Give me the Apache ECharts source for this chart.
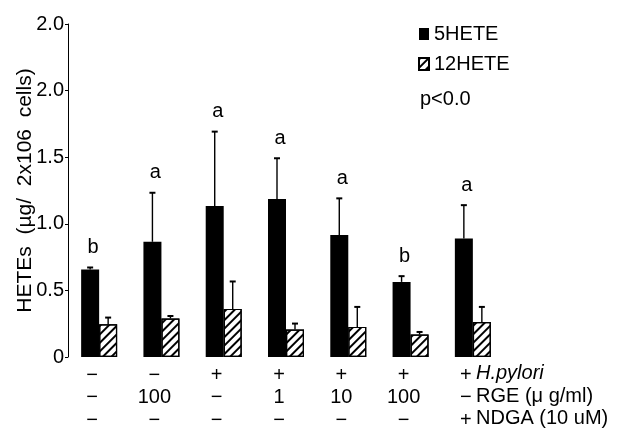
<!DOCTYPE html>
<html><head><meta charset="utf-8">
<script src="https://cdn.jsdelivr.net/npm/echarts@6/dist/echarts.min.js"></script>
<style>html,body{margin:0;padding:0;background:#fff}#c{width:622px;height:428px}</style>
</head><body><div id="c"></div>
<script>
const categories = ['G1','G2','G3','G4','G5','G6','G7'];
const hete5 = [0.657, 0.865, 1.133, 1.186, 0.915, 0.564, 0.89];
const hete5Err = [0.015, 0.368, 0.559, 0.306, 0.276, 0.043, 0.25];
const hete12 = [0.246, 0.289, 0.361, 0.206, 0.226, 0.168, 0.263];
const hete12Err = [0.05, 0.019, 0.206, 0.045, 0.15, 0.02, 0.113];
const sigLetters = ['b','a','a','a','a','b','a'];
const yTickLabels = ['0','0.5','1.0','1.5','2.0','2.0'];
const hpRow = ['−','−','+','+','+','+','+'];
const rgeRow = ['−','100','−','1','10','100','−'];
const ndgaRow = ['−','−','−','−','−','−','+'];
const rowTitles = ['H.pylori','RGE (μ g/ml)','NDGA (10 uM)'];
const yName = 'HETEs  (µg/  2x106  cells)';
const pText = 'p<0.0';

const FONT = '"Liberation Sans", Arial, sans-serif';
const BW = 18;
const chart = echarts.init(document.getElementById('c'));

function errSeries(name, vals, errs, off) {
  return {
    type: 'custom', name: name + ' err', z: 5,
    data: vals.map((v, i) => [i, v, errs[i]]),
    encode: {x: 0, y: 1},
    renderItem: function (params, api) {
      const i = api.value(0), v = api.value(1), e = api.value(2);
      const p0 = api.coord([i, v]);
      const p1 = api.coord([i, v + e]);
      const x = p0[0] + off;
      const st = {stroke: '#000', lineWidth: 1.4};
      return {type: 'group', children: [
        {type: 'line', shape: {x1: x, y1: p0[1], x2: x, y2: p1[1]}, style: st},
        {type: 'line', shape: {x1: x - 3, y1: p1[1], x2: x + 3, y2: p1[1]}, style: {stroke: '#000', lineWidth: 2}}
      ]};
    }
  };
}

const option = {
  backgroundColor: '#fff',
  animation: false,
  textStyle: {fontFamily: FONT},
  grid: {left: 68, right: 118, top: 24, bottom: 71, outerBoundsMode: 'none', containLabel: false},
  legend: {
    data: ['5HETE', '12HETE'], orient: 'vertical', left: 418, top: 24, padding: 0,
    itemWidth: 10, itemHeight: 12, itemGap: 10, icon: 'rect',
    textStyle: {fontSize: 20, color: '#000', fontFamily: FONT}
  },
  xAxis: {
    type: 'category', data: categories,
    axisLine: {show: false}, axisTick: {show: false},
    axisLabel: {
      interval: 0, margin: 7, fontSize: 20, lineHeight: 22.5, color: '#000',
      padding: [0, 14, 0, 0],
      formatter: function (v, i) { return hpRow[i] + '\n' + rgeRow[i] + '\n' + ndgaRow[i]; }
    }
  },
  yAxis: {
    type: 'value', min: 0, max: 2.5, interval: 0.5,
    name: yName, nameLocation: 'middle', nameGap: 32, nameRotate: 90, nameMoveOverlap: false,
    nameTextStyle: {fontSize: 21, color: '#000'},
    splitLine: {show: false},
    axisLine: {show: true, lineStyle: {color: '#000', width: 1}},
    axisTick: {show: true, length: 3, lineStyle: {color: '#000'}},
    axisLabel: {
      fontSize: 20, color: '#000', margin: 4,
      formatter: function (v) { return yTickLabels[Math.round(v / 0.5)]; }
    }
  },
  series: [
    {type: 'bar', name: '5HETE', data: hete5, barWidth: BW, barGap: '0%',
      itemStyle: {color: '#000'}},
    {type: 'bar', name: '12HETE', data: hete12, barWidth: BW,
      itemStyle: {color: '#fff', borderColor: '#000', borderWidth: 1.2,
        decal: {symbol: 'rect', color: '#000', dashArrayX: [1, 0], dashArrayY: [2, 4], rotation: -Math.PI / 4}}},
    errSeries('5HETE', hete5, hete5Err, -BW / 2),
    errSeries('12HETE', hete12, hete12Err, BW / 2),
    {
      type: 'custom', name: 'letters', z: 6,
      data: hete5.map((v, i) => [i, v + hete5Err[i]]),
      encode: {x: 0, y: 1},
      renderItem: function (params, api) {
        const p = api.coord([api.value(0), api.value(1)]);
        return {type: 'text', style: {text: sigLetters[params.dataIndex], x: p[0] - BW / 2 + 3, y: p[1] - 20,
          align: 'center', verticalAlign: 'middle', fontSize: 20, fontFamily: FONT, fill: '#000'}};
      }
    }
  ],
  graphic: [
    {type: 'text', left: 420, top: 89, style: {text: pText, fontSize: 20, fontFamily: FONT, fill: '#000'}},
    {type: 'text', left: 476, top: 363, style: {text: rowTitles[0], fontSize: 20, fontStyle: 'italic', fontFamily: FONT, fill: '#000'}},
    {type: 'text', left: 476, top: 386, style: {text: rowTitles[1], fontSize: 20, fontFamily: FONT, fill: '#000'}},
    {type: 'text', left: 476, top: 408, style: {text: rowTitles[2], fontSize: 20, fontFamily: FONT, fill: '#000'}}
  ]
};
chart.setOption(option);
</script></body></html>
